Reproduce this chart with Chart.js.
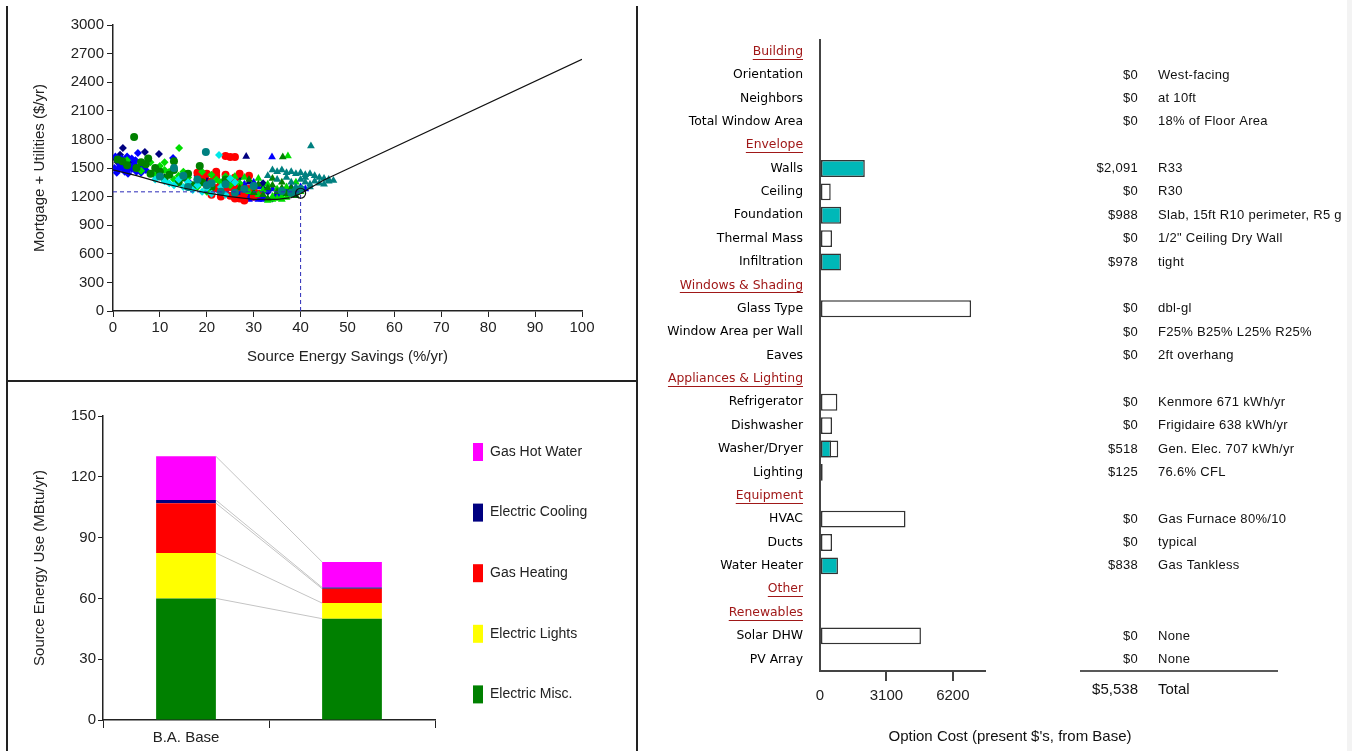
<!DOCTYPE html>
<html>
<head>
<meta charset="utf-8">
<script src="https://cdn.jsdelivr.net/npm/chart.js@4.4.1/dist/chart.umd.min.js"></script>
<style>
  body { margin: 0; background: #fff; width: 1352px; height: 751px; overflow: hidden; position: relative; }
  .panel { position: absolute; }
  .rule { position: absolute; background: #222; }
</style>
</head>
<body>
<div class="panel" style="left:0;top:0;width:637px;height:381px"><canvas id="tradeoff"></canvas></div>
<div class="panel" style="left:0;top:381px;width:637px;height:370px"><canvas id="energy-use"></canvas></div>
<div class="panel" style="left:640px;top:0;width:707px;height:751px"><canvas id="option-cost"></canvas></div>
<div class="rule" style="left:6px;top:6px;width:2px;height:745px"></div>
<div class="rule" style="left:636px;top:6px;width:2px;height:745px"></div>
<div class="rule" style="left:6px;top:380px;width:632px;height:2px"></div>
<div style="position:absolute;left:1347px;top:0;width:5px;height:751px;background:#f3f3f3"></div>
<script>
// ---- Tradeoff scatter data: [source energy savings %, mortgage + utilities $/yr]
const navyPts = [[2.1,1710],[6.8,1668],[9.8,1647],[0.5,1600],[1,1560],[2,1530],[3.5,1500],[18,1420],[22,1400],[26,1360],[28,1300],[30,1280],[33,1250],[24,1260],[31,1190],[11,1400],[14,1380],[1.5,1640],[3,1590],[4,1560],[20,1380],[25,1330],[27,1400],[29,1240],[32,1340],[34,1180]];
const navyTri = [[28.4,1620],[22,1410],[24,1380],[29,1350],[32,1300],[35,1230],[27,1230]];
const bluePts = [[0.5,1620],[1,1580],[1.5,1540],[2,1500],[2.5,1560],[3,1470],[3.5,1520],[4,1490],[4.5,1540],[5,1460],[5.5,1500],[6,1450],[1,1480],[2.5,1460],[5.3,1657],[12.8,1605],[9,1420],[16,1360],[20,1300],[22,1280],[0.3,1500],[0.8,1450],[1.8,1600],[3,1620],[4,1600],[6.5,1520],[7,1480],[1.5,1520],[3.2,1440],[4.8,1580]];
const blueTri = [[33.9,1616],[25,1300],[27,1250],[29,1200],[30,1180],[31,1170],[32,1200],[33,1260],[28,1330],[35,1210],[26,1200],[30,1350],[37,1260],[40,1300],[41,1280],[24,1350],[26,1280],[28,1190],[29,1170],[31,1300],[34,1280],[36,1230],[38,1300],[32,1170],[27,1170]];
const limePts = [[14.1,1710],[8,1560],[10,1520],[11,1480],[12,1460],[14,1420],[16,1400],[18,1380],[19,1460],[21,1430],[23,1350],[25,1320],[20,1250],[17,1290],[6,1470],[3,1580],[9,1430],[13,1380],[15,1460],[22,1380],[24,1410],[18,1300],[27,1340],[11,1560],[16,1330]];
const limeTri = [[37.3,1626],[30,1300],[32,1270],[34,1200],[35,1180],[36,1200],[38,1220],[33,1330],[31,1390],[26,1410],[28,1400],[37,1300],[39,1270],[29,1250],[31,1220],[33,1160],[34,1170],[36,1170],[37,1190],[35,1280],[39,1350],[40,1250]];
const greenPts = [[4.5,1826],[1,1590],[2,1570],[7,1540],[9,1500],[10,1460],[12,1430],[13,1480],[15,1400],[17,1320],[19,1350],[24,1380],[18.5,1520],[13,1570],[5,1500],[6,1560],[8,1440],[11,1390],[14,1350],[16,1440],[21,1300],[3,1530],[7.5,1600]];
const greenTri = [[36.2,1616],[29,1380],[31,1330],[33,1290],[35,1250],[37,1230],[38,1290],[34,1390],[36,1350],[27,1290],[30,1240],[32,1220],[34,1320],[36,1290],[38,1250],[39,1210],[33,1180]];
const redPts = [[24,1626],[25,1616],[26,1616],[20,1440],[22,1420],[24,1430],[26,1400],[18,1450],[20,1310],[22,1290],[24,1280],[26,1270],[28,1230],[30,1200],[27,1180],[25,1210],[21,1220],[29,1420],[19,1390],[21,1360],[23,1330],[25,1300],[27,1300],[29,1280],[23,1200],[26,1180],[28,1160],[31,1230],[30,1250],[22,1460],[27,1440]];
const cyanPts = [[22.6,1637],[14,1380],[16,1350],[18,1320],[20,1290],[23,1300],[17,1270],[15,1300],[12,1340],[26,1350],[9,1380],[19,1250],[21,1230],[24,1220],[13,1320],[11,1360],[25,1390]];
const tealPts = [[19.8,1668],[13,1500],[15,1420],[18,1380],[21,1340],[24,1330],[28,1280],[23,1250],[38,1240],[39,1260],[40,1280],[16,1300],[10,1410],[20,1320],[26,1240],[30,1310],[36,1260]];
const tealTri = [[42.2,1731],[34,1480],[35,1460],[36,1480],[37,1450],[38,1460],[39,1440],[40,1450],[41,1430],[42,1440],[43,1420],[44,1400],[45,1390],[46,1380],[40,1380],[41,1350],[42,1330],[43,1360],[44,1340],[45,1330],[46,1360],[47,1370],[38,1350],[37,1400],[33,1420],[39,1300],[42,1300],[41,1400],[35,1380]];
const frontier = [[0,1480],[5,1420],[10,1350],[15,1290],[20,1240],[25,1200],[30,1170],[35,1170],[38,1190],[40,1230],[42,1290],[45,1375],[100,2640]];
const chosenPoint = [[40,1235]];
const guideH = [[0,1250],[40,1250]];
const guideV = [[40,0],[40,1230]];

// ---- Source energy use (MBtu/yr)
const energyCats = ['B.A. Base', ''];
const elecMisc = [60, 50];
const elecLights = [22.4, 7.7];
const gasHeating = [24.6, 7.1];
const elecCooling = [1.5, 0.6];
const gasHotWater = [21.6, 12.6];

// ---- Option cost rows
const optionRows = ['Building', 'Orientation', 'Neighbors', 'Total Window Area', 'Envelope', 'Walls', 'Ceiling', 'Foundation', 'Thermal Mass', 'Infiltration', 'Windows & Shading', 'Glass Type', 'Window Area per Wall', 'Eaves', 'Appliances & Lighting', 'Refrigerator', 'Dishwasher', 'Washer/Dryer', 'Lighting', 'Equipment', 'HVAC', 'Ducts', 'Water Heater', 'Other', 'Renewables', 'Solar DHW', 'PV Array'];
const headerRows = ['Building', 'Envelope', 'Windows & Shading', 'Appliances & Lighting', 'Equipment', 'Other', 'Renewables'];
const chosenCost = [null, null, null, null, null, 2091, null, 988, null, 978, null, null, null, null, null, null, null, 518, 125, null, null, null, 838, null, null, null, null];
const optionSpan = [null, null, null, null, null, null, 500, null, 560, null, null, 7050, null, null, null, 810, 560, 850, null, null, 3990, 560, null, null, null, 4710, null];
const costText = ['', '$0', '$0', '$0', '', '$2,091', '$0', '$988', '$0', '$978', '', '$0', '$0', '$0', '', '$0', '$0', '$518', '$125', '', '$0', '$0', '$838', '', '', '$0', '$0'];
const choiceText = ['', 'West-facing', 'at 10ft', '18% of Floor Area', '', 'R33', 'R30', 'Slab, 15ft R10 perimeter, R5 g', '1/2" Ceiling Dry Wall', 'tight', '', 'dbl-gl', 'F25% B25% L25% R25%', '2ft overhang', '', 'Kenmore 671 kWh/yr', 'Frigidaire 638 kWh/yr', 'Gen. Elec. 707 kWh/yr', '76.6% CFL', '', 'Gas Furnace 80%/10', 'typical', 'Gas Tankless', '', '', 'None', 'None'];
const costTicks = [0, 3100, 6200];
const totalCost = '$5,538';

Chart.defaults.font.family = "'Liberation Sans', Arial, sans-serif";
Chart.defaults.color = '#222';
Chart.defaults.animation = false;
Chart.defaults.responsive = true;
Chart.defaults.maintainAspectRatio = false;
Chart.defaults.plugins.tooltip.enabled = false;

const toPts = arr => arr.map(p => ({x: p[0], y: p[1]}));

function cloud(data, color, style, radius) {
    return {
        data: toPts(data),
        backgroundColor: color,
        borderColor: color,
        pointStyle: style,
        pointRadius: radius,
        borderWidth: 0
    };
}

// Tradeoff scatter
new Chart(document.getElementById('tradeoff'), {
    type: 'scatter',
    data: {
        datasets: [
            {data: toPts(frontier), showLine: true, borderColor: '#111', borderWidth: 1.2, pointRadius: 0, order: 0},
            {data: toPts(chosenPoint), pointRadius: 5, backgroundColor: 'rgba(0,0,0,0)', borderColor: '#111', borderWidth: 1.2, order: 0},
            {data: toPts(guideH), showLine: true, borderColor: '#2a2ab8', borderWidth: 1, borderDash: [4, 3], pointRadius: 0, order: 0},
            {data: toPts(guideV), showLine: true, borderColor: '#2a2ab8', borderWidth: 1, borderDash: [4, 3], pointRadius: 0, order: 0},
            cloud(tealTri, '#008080', 'triangle', 4.5),
            cloud(tealPts, '#008080', 'circle', 4),
            cloud(cyanPts, '#00e8e8', 'rectRot', 4),
            cloud(greenTri, '#008000', 'triangle', 4.5),
            cloud(greenPts, '#008000', 'circle', 4),
            cloud(limeTri, '#00dd00', 'triangle', 4.5),
            cloud(limePts, '#00dd00', 'rectRot', 4),
            cloud(redPts, '#ff0000', 'circle', 4),
            cloud(blueTri, '#0000ff', 'triangle', 4.5),
            cloud(bluePts, '#0000ff', 'rectRot', 4),
            cloud(navyTri, '#000080', 'triangle', 4.5),
            cloud(navyPts, '#000080', 'rectRot', 4)
        ]
    },
    options: {
        layout: {padding: {top: 25, right: 55, left: 0, bottom: 0}},
        plugins: {legend: {display: false}},
        scales: {
            x: {
                type: 'linear', min: 0, max: 100,
                ticks: {stepSize: 10, font: {size: 15}, padding: 2, maxRotation: 0, callback: v => String(v)},
                grid: {drawOnChartArea: false, tickLength: 6, color: '#222'},
                border: {color: '#222', width: 1.5},
                title: {display: true, text: 'Source Energy Savings (%/yr)', font: {size: 15}, padding: {top: 0, bottom: 15}},
                afterFit(s) { s.height = 70; }
            },
            y: {
                min: 0, max: 3000,
                ticks: {stepSize: 300, font: {size: 15}, padding: 3, callback: v => String(v)},
                grid: {drawOnChartArea: false, tickLength: 6, color: '#222'},
                border: {color: '#222', width: 1.5},
                title: {display: true, text: 'Mortgage + Utilities ($/yr)', font: {size: 15}, padding: {top: 31}},
                afterFit(s) { s.width = 113; }
            }
        }
    }
});

// Connector lines between the stacked bars, plus the legend column on the right
const energyExtras = {
    id: 'energyExtras',
    afterDatasetsDraw(chart) {
        const ctx = chart.ctx;
        ctx.save();
        ctx.strokeStyle = '#c4c4c4';
        ctx.lineWidth = 1;
        chart.data.datasets.forEach((ds, i) => {
            const bars = chart.getDatasetMeta(i).data;
            const a = bars[0], b = bars[1];
            ctx.beginPath();
            ctx.moveTo(a.x + a.width / 2, a.y);
            ctx.lineTo(b.x - b.width / 2, b.y);
            ctx.stroke();
        });
        ctx.restore();
    },
    afterDraw(chart) {
        const ctx = chart.ctx;
        const top = chart.chartArea.top;
        ctx.save();
        ctx.font = "14px 'Liberation Sans', Arial";
        ctx.textBaseline = 'middle';
        ctx.textAlign = 'left';
        const items = chart.data.datasets.slice().reverse();
        items.forEach((ds, k) => {
            const y = top + 36 + k * 60.6;
            ctx.fillStyle = ds.backgroundColor;
            ctx.fillRect(473, y - 9, 10, 18);
            ctx.fillStyle = '#222';
            ctx.fillText(ds.label, 490, y);
        });
        ctx.restore();
    }
};

new Chart(document.getElementById('energy-use'), {
    type: 'bar',
    data: {
        labels: energyCats,
        datasets: [
            {label: 'Electric Misc.', data: elecMisc, backgroundColor: '#008000'},
            {label: 'Electric Lights', data: elecLights, backgroundColor: '#ffff00'},
            {label: 'Gas Heating', data: gasHeating, backgroundColor: '#ff0000'},
            {label: 'Electric Cooling', data: elecCooling, backgroundColor: '#000080'},
            {label: 'Gas Hot Water', data: gasHotWater, backgroundColor: '#ff00ff'}
        ]
    },
    options: {
        layout: {padding: {top: 35, right: 202, left: 0, bottom: 0}},
        datasets: {bar: {barPercentage: 0.36, categoryPercentage: 1}},
        plugins: {legend: {display: false}},
        scales: {
            x: {
                stacked: true,
                grid: {offset: true, drawOnChartArea: false, tickLength: 8, color: '#222'},
                border: {color: '#222', width: 1.5},
                ticks: {font: {size: 15}, padding: 1},
                afterFit(s) { s.height = 31; }
            },
            y: {
                stacked: true, min: 0, max: 150,
                ticks: {stepSize: 30, font: {size: 15}, padding: 2},
                grid: {drawOnChartArea: false, tickLength: 5, color: '#222'},
                border: {color: '#222', width: 1.5},
                title: {display: true, text: 'Source Energy Use (MBtu/yr)', font: {size: 15}, padding: {top: 31}},
                afterFit(s) { s.width = 103; }
            }
        }
    },
    plugins: [energyExtras]
});

// Option cost panel: row text, header underlines, totals
const costNotes = {
    id: 'costNotes',
    afterDraw(chart) {
        const ctx = chart.ctx;
        const yScale = chart.scales.y;
        const area = chart.chartArea;
        ctx.save();
        // underline section headers
        ctx.font = "12.4px 'DejaVu Sans'";
        ctx.strokeStyle = '#a01818';
        ctx.lineWidth = 1;
        const labelRight = area.left - 17;
        optionRows.forEach((row, i) => {
            if (!headerRows.includes(row)) return;
            const y = Math.round(yScale.getPixelForTick(i)) + 7.5;
            const w = ctx.measureText(row).width;
            ctx.beginPath();
            ctx.moveTo(labelRight - w, y);
            ctx.lineTo(labelRight, y);
            ctx.stroke();
        });
        // amounts and chosen options
        ctx.font = "13px 'Liberation Sans', Arial";
        ctx.letterSpacing = '0.3px';
        ctx.fillStyle = '#111';
        ctx.textBaseline = 'middle';
        optionRows.forEach((row, i) => {
            const y = yScale.getPixelForTick(i);
            ctx.textAlign = 'right';
            ctx.fillText(costText[i], 498, y);
            ctx.textAlign = 'left';
            ctx.fillText(choiceText[i], 518, y);
        });
        // total rule and total
        ctx.strokeStyle = '#222';
        ctx.lineWidth = 1.5;
        ctx.beginPath();
        ctx.moveTo(440, area.bottom);
        ctx.lineTo(638, area.bottom);
        ctx.stroke();
        ctx.font = "15px 'Liberation Sans', Arial";
        ctx.letterSpacing = '0px';
        ctx.textAlign = 'right';
        ctx.fillText(totalCost, 498, area.bottom + 19);
        ctx.textAlign = 'left';
        ctx.fillText('Total', 518, area.bottom + 19);
        // axis title
        ctx.textAlign = 'center';
        ctx.fillText("Option Cost (present $'s, from Base)", 370, 737);
        ctx.restore();
    }
};

new Chart(document.getElementById('option-cost'), {
    type: 'bar',
    data: {
        labels: optionRows,
        datasets: [
            {label: 'Chosen', data: chosenCost, backgroundColor: '#00b8b8', borderColor: '#333', borderWidth: 1.5, order: 1},
            {label: 'Options', data: optionSpan, backgroundColor: '#ffffff', borderColor: '#333', borderWidth: 1.5, order: 2}
        ]
    },
    options: {
        indexAxis: 'y',
        layout: {padding: {top: 40, right: 362, left: 0, bottom: 0}},
        datasets: {bar: {barPercentage: 0.72, categoryPercentage: 1, grouped: false, borderSkipped: false}},
        plugins: {legend: {display: false}},
        scales: {
            y: {
                grid: {display: false},
                border: {display: true, color: '#444', width: 2},
                ticks: {
                    padding: 9, autoSkip: false,
                    font: {family: "'DejaVu Sans'", size: 12.4},
                    color: ctx => headerRows.includes(optionRows[ctx.index]) ? '#a01818' : '#000'
                },
                afterFit(s) { s.width = 180; }
            },
            x: {
                min: 0, max: 7700,
                afterBuildTicks(s) { s.ticks = costTicks.map(v => ({value: v})); },
                grid: {drawOnChartArea: false, tickLength: 10, lineWidth: 2, color: ctx => ctx.index === 0 ? 'rgba(0,0,0,0)' : '#444'},
                border: {color: '#444', width: 2},
                ticks: {font: {size: 15}, padding: 6, callback: v => String(v)},
                afterFit(s) { s.height = 80; }
            }
        }
    },
    plugins: [costNotes]
});
</script>
</body>
</html>
